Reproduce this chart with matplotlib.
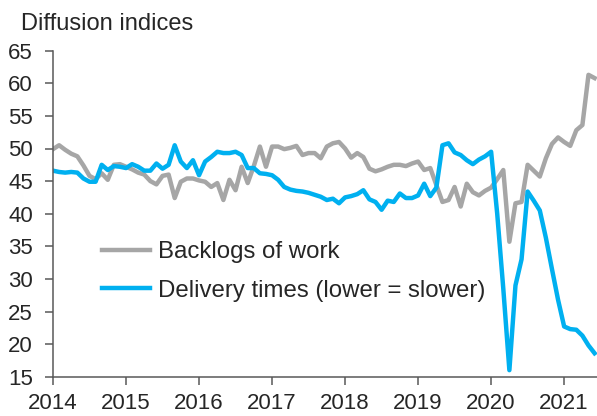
import numpy as np
import matplotlib
matplotlib.use("Agg")
import matplotlib.pyplot as plt

plt.rcParams['font.family'] = ['Liberation Sans', 'DejaVu Sans']

# monthly data, Jan 2014 - Jun 2021
start_year = 2014
backlogs = [49.9, 50.5, 49.8, 49.2, 48.8, 47.4, 45.8, 45.3, 46.2, 45.2,
            47.5, 47.6, 47.2, 46.8, 46.3, 46.0, 45.0, 44.5, 45.8, 46.0,
            42.4, 44.9, 45.4, 45.4, 45.1, 44.9, 44.1, 44.7, 42.1, 45.2,
            43.6, 47.2, 44.7, 47.3, 50.3, 47.2, 50.3, 50.3, 49.9, 50.1,
            50.4, 49.0, 49.3, 49.3, 48.5, 50.3, 50.8, 51.0, 50.0, 48.6,
            49.3, 48.7, 46.9, 46.5, 46.8, 47.2, 47.5, 47.5, 47.3, 47.7,
            48.0, 46.7, 47.0, 44.4, 41.8, 42.1, 44.1, 41.1, 44.6, 43.3,
            42.8, 43.5, 44.0, 45.3, 46.7, 35.7, 41.6, 41.8, 47.5, 46.6,
            45.7, 48.5, 50.7, 51.7, 51.0, 50.4, 52.8, 53.6, 61.3, 60.8]
delivery = [46.6, 46.4, 46.3, 46.4, 46.3, 45.4, 44.9, 44.9, 47.5, 46.7,
            47.3, 47.2, 47.0, 47.6, 47.2, 46.6, 46.6, 47.7, 46.9, 47.5,
            50.5, 48.0, 47.0, 48.2, 45.9, 48.0, 48.7, 49.5, 49.3, 49.3,
            49.5, 49.0, 47.0, 47.0, 46.2, 46.1, 45.9, 45.2, 44.1, 43.7,
            43.5, 43.4, 43.2, 42.9, 42.6, 42.1, 42.3, 41.6, 42.5, 42.7,
            43.0, 43.6, 42.2, 41.8, 40.6, 42.0, 41.8, 43.1, 42.4, 42.4,
            42.8, 44.6, 42.7, 44.0, 50.5, 50.8, 49.4, 49.0, 48.2, 47.6,
            48.3, 48.8, 49.5, 40.0, 28.5, 16.0, 29.0, 33.0, 43.4, 42.0,
            40.5, 36.3, 31.5, 26.8, 22.7, 22.3, 22.2, 21.3, 19.8, 18.6]
years = [2014, 2015, 2016, 2017, 2018, 2019, 2020, 2021]

x = start_year + np.arange(len(backlogs)) / 12.0

txt = '#262626'
axcol = '#595959'

fig = plt.figure(figsize=(5.97, 4.16), dpi=100)
ax = fig.add_axes([53 / 597, 1 - 376.7 / 416, 1 - 53 / 597, (376.7 - 50.7) / 416])

ax.plot(x, backlogs, color='#A6A6A6', lw=3.2, label='Backlogs of work',
        solid_joinstyle='round')
ax.plot(x, delivery, color='#00B0F0', lw=3.2, label='Delivery times (lower = slower)',
        solid_joinstyle='round')

ax.set_xlim(2014, 2021.45)
ax.set_ylim(15, 65)
ax.set_yticks(range(15, 66, 5))
ax.set_xticks(years)
ax.set_xticklabels([str(y) for y in years])

for s in ['top', 'right']:
    ax.spines[s].set_visible(False)
for s in ['left', 'bottom']:
    ax.spines[s].set_color(axcol)
    ax.spines[s].set_linewidth(1.1)
ax.tick_params(axis='both', colors=axcol, labelcolor=txt, labelsize=16,
               length=5.5, width=1.1, direction='out')
ax.tick_params(axis='y', pad=9)
ax.tick_params(axis='x', pad=6)

fig.text(21 / 597, 1 - 30 / 416, 'Diffusion indices', fontsize=17, color=txt,
         ha='left', va='baseline')

leg = ax.legend(loc='upper left', bbox_to_anchor=(102 / 597, 1 - 241 / 416),
                bbox_transform=fig.transFigure, frameon=False, fontsize=17.3,
                handlelength=2.0, handletextpad=0.35, labelspacing=0.7,
                borderpad=0, borderaxespad=0)
for t in leg.get_texts():
    t.set_color(txt)

fig.savefig('out.png', dpi=100)
